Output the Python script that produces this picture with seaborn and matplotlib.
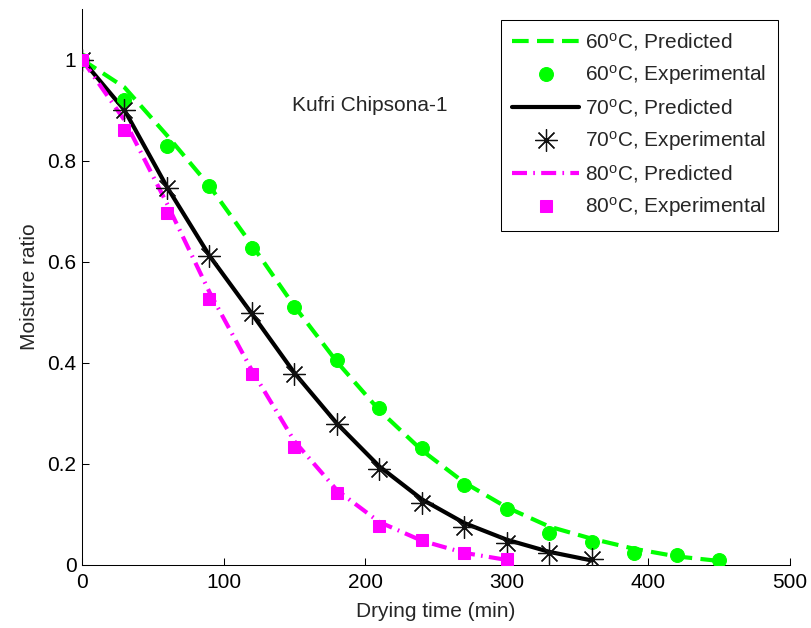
import matplotlib
matplotlib.use("Agg")
import matplotlib.pyplot as plt
import seaborn as sns
import pandas as pd
from matplotlib.ticker import FormatStrFormatter

# ---- data ----
time_60 = [0, 30, 60, 90, 120, 150, 180, 210, 240, 270, 300, 330, 360, 390, 420, 450]
exp_60 = [1.0, 0.92, 0.828, 0.749, 0.628, 0.511, 0.406, 0.311, 0.231, 0.158, 0.110, 0.064, 0.046, 0.024, 0.020, 0.010]
pred_60 = [1.0, 0.945, 0.85, 0.75, 0.633, 0.512, 0.402, 0.306, 0.227, 0.163, 0.114, 0.076, 0.052, 0.032, 0.017, 0.008]

time_70 = [0, 30, 60, 90, 120, 150, 180, 210, 240, 270, 300, 330, 360]
exp_70 = [1.0, 0.90, 0.746, 0.611, 0.499, 0.378, 0.278, 0.190, 0.122, 0.075, 0.044, 0.023, 0.012]
pred_70 = [1.0, 0.90, 0.748, 0.612, 0.497, 0.380, 0.280, 0.195, 0.130, 0.083, 0.050, 0.026, 0.009]

time_80 = [0, 30, 60, 90, 120, 150, 180, 210, 240, 270, 300]
exp_80 = [1.0, 0.86, 0.697, 0.526, 0.378, 0.234, 0.142, 0.077, 0.049, 0.023, 0.011]
pred_80 = [1.0, 0.88, 0.715, 0.540, 0.385, 0.245, 0.148, 0.085, 0.048, 0.024, 0.010]

x_ticks = [0, 100, 200, 300, 400, 500]
y_ticks = [0, 0.2, 0.4, 0.6, 0.8, 1.0]

labels = ["60$^{\\rm o}$C, Predicted", "60$^{\\rm o}$C, Experimental",
          "70$^{\\rm o}$C, Predicted", "70$^{\\rm o}$C, Experimental",
          "80$^{\\rm o}$C, Predicted", "80$^{\\rm o}$C, Experimental"]
annotation = "Kufri Chipsona-1"
x_label = "Drying time (min)"
y_label = "Moisture ratio"

# ---- style ----
sns.set_style("ticks")
plt.rcParams["font.family"] = ["Liberation Sans", "DejaVu Sans"]
plt.rcParams["mathtext.fontset"] = "custom"
plt.rcParams["mathtext.rm"] = "Liberation Sans"
plt.rcParams["mathtext.it"] = "Liberation Sans:italic"
FS = 15

GREEN = "#00FF00"
MAGENTA = "#FF00FF"
BLACK = "#000000"

fig = plt.figure(figsize=(8.11, 6.28), dpi=100)
ax = fig.add_axes([82 / 811, 63 / 628, 708 / 811, 556 / 628])

d60 = pd.DataFrame({"t": time_60, "exp": exp_60, "pred": pred_60})
d70 = pd.DataFrame({"t": time_70, "exp": exp_70, "pred": pred_70})
d80 = pd.DataFrame({"t": time_80, "exp": exp_80, "pred": pred_80})

sns.lineplot(data=d60, x="t", y="pred", ax=ax, color=GREEN, lw=3,
             linestyle=(0, (4, 2)), label=labels[0], zorder=2)
sns.lineplot(data=d60, x="t", y="exp", ax=ax, color=GREEN, linestyle="",
             marker="o", markersize=10, markeredgecolor=GREEN,
             markerfacecolor=GREEN, label=labels[1], zorder=3)
sns.lineplot(data=d70, x="t", y="pred", ax=ax, color=BLACK, lw=3,
             linestyle="-", label=labels[2], zorder=2)
sns.lineplot(data=d70, x="t", y="exp", ax=ax, color=BLACK, linestyle="",
             marker=(8, 2, 0), markersize=16, markeredgecolor="#111111",
             markeredgewidth=0.9, label=labels[3], zorder=3)
sns.lineplot(data=d80, x="t", y="pred", ax=ax, color=MAGENTA, lw=3,
             linestyle=(0, (3.6, 1.5, 0.4, 1.5)), label=labels[4], zorder=2)
sns.lineplot(data=d80, x="t", y="exp", ax=ax, color=MAGENTA, linestyle="",
             marker="s", markersize=8, markeredgecolor=MAGENTA,
             markerfacecolor=MAGENTA, label=labels[5], zorder=3)

ax.set_xlim(0, 500)
ax.set_ylim(0, 1.1)
ax.set_xticks(x_ticks)
ax.set_yticks(y_ticks)
ax.yaxis.set_major_formatter(FormatStrFormatter("%g"))
ax.tick_params(direction="in", length=5, width=0.75, labelsize=FS,
               colors="black", bottom=True, left=True, top=False, right=False)
ax.tick_params(axis="x", pad=6)
ax.tick_params(axis="y", pad=4)
for s in ["top", "right"]:
    ax.spines[s].set_visible(False)
for s in ["left", "bottom"]:
    ax.spines[s].set_color("black")
    ax.spines[s].set_linewidth(0.75)

ax.set_xlabel(x_label, fontsize=FS, labelpad=7)
ax.set_ylabel(y_label, fontsize=FS, labelpad=6)

ax.text(148, 0.91, annotation, fontsize=FS, ha="left", va="center")

leg = ax.legend(loc="upper right", bbox_to_anchor=(778 / 811, 1 - 20 / 628),
                bbox_transform=fig.transFigure, borderaxespad=0,
                frameon=True, fancybox=False, framealpha=1,
                edgecolor="black", fontsize=FS, handlelength=3.2,
                handletextpad=0.3, labelspacing=0.48, borderpad=0.55,
                numpoints=1)
leg.get_frame().set_linewidth(0.75)

fig.savefig("out.png", dpi=100)
